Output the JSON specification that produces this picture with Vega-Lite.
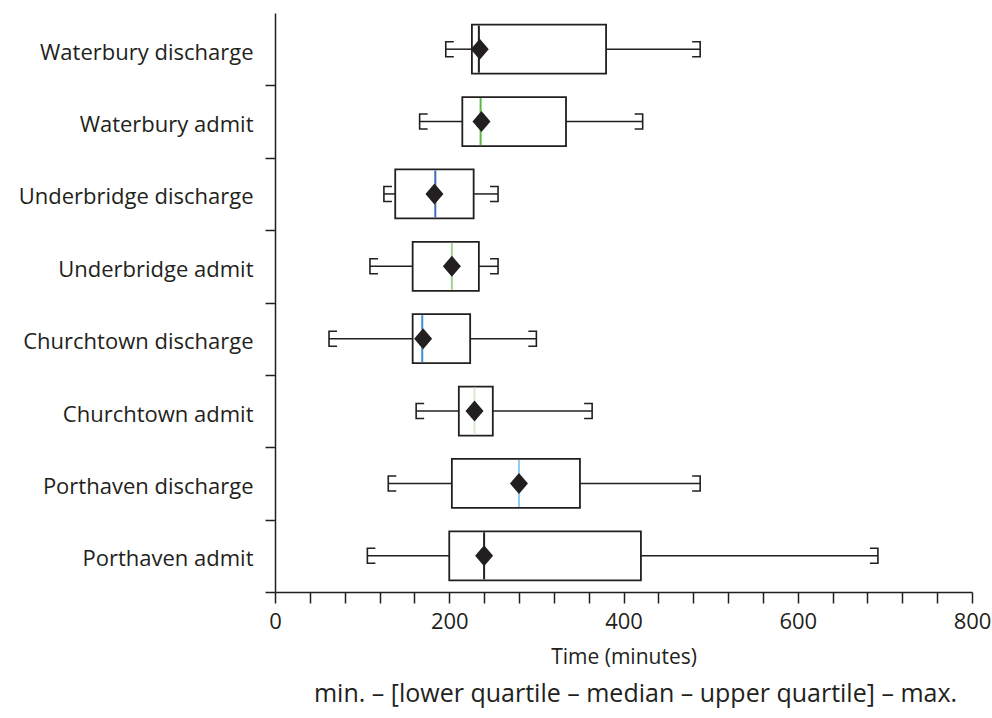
{
  "$schema": "https://vega.github.io/schema/vega-lite/v6.json",
  "width": 697,
  "height": 579,
  "autosize": {"type": "none"},
  "padding": {"left": 275, "top": 13, "right": 20, "bottom": 126},
  "background": "white",
  "title": {
    "text": "min. – [lower quartile – median – upper quartile] – max.",
    "orient": "bottom",
    "anchor": "middle",
    "offset": 15,
    "dx": 12,
    "font": "Open Sans",
    "fontSize": 25,
    "fontWeight": "normal",
    "color": "#231f20"
  },
  "config": {
    "view": {"stroke": null},
    "font": "Open Sans",
    "axis": {
      "domainColor": "#231f20",
      "domainWidth": 1.5,
      "tickColor": "#231f20",
      "tickWidth": 1.5,
      "labelColor": "#231f20",
      "titleColor": "#231f20",
      "labelFont": "Open Sans",
      "titleFont": "Open Sans",
      "labelFontSize": 22,
      "titleFontSize": 21,
      "titleFontWeight": "normal",
      "labelLimit": 400,
      "labelOverlap": false,
      "labelFlush": false,
      "grid": false
    }
  },
  "data": {
    "values": [
      {"site": "Waterbury discharge", "min": 196, "q1": 226, "median": 234, "q3": 380, "max": 488, "mean": 235, "medianColor": "#231f20"},
      {"site": "Waterbury admit", "min": 166, "q1": 215, "median": 236, "q3": 334, "max": 422, "mean": 237, "medianColor": "#5cb845"},
      {"site": "Underbridge discharge", "min": 125, "q1": 138, "median": 184, "q3": 228, "max": 256, "mean": 183, "medianColor": "#3e6db5"},
      {"site": "Underbridge admit", "min": 109, "q1": 158, "median": 203, "q3": 234, "max": 256, "mean": 203, "medianColor": "#a3d28c"},
      {"site": "Churchtown discharge", "min": 62, "q1": 158, "median": 169, "q3": 224, "max": 300, "mean": 170, "medianColor": "#3f8fd6"},
      {"site": "Churchtown admit", "min": 162, "q1": 211, "median": 229, "q3": 250, "max": 364, "mean": 229, "medianColor": "#d6ebcf"},
      {"site": "Porthaven discharge", "min": 130, "q1": 203, "median": 280, "q3": 350, "max": 488, "mean": 280, "medianColor": "#8ecdf0"},
      {"site": "Porthaven admit", "min": 106, "q1": 200, "median": 240, "q3": 420, "max": 692, "mean": 240, "medianColor": "#231f20"}
    ]
  },
  "encoding": {
    "y": {
      "field": "site",
      "type": "nominal",
      "sort": null,
      "title": null,
      "scale": {"paddingInner": 0, "paddingOuter": 0},
      "axis": {
        "tickBand": "extent",
        "tickSize": 10,
        "labelPadding": 12,
        "labelOffset": 3,
        "labelExpr": "datum.label == 'Churchtown discharge' ? datum.label + '  ' : datum.label",
        "tickOpacity": {"condition": {"test": "datum.extra", "value": 0}, "value": 1}
      }
    }
  },
  "layer": [
    {
      "mark": {"type": "rule", "color": "#231f20", "strokeWidth": 1.5},
      "encoding": {
        "x": {
          "field": "min",
          "type": "quantitative",
          "scale": {"domain": [0, 800], "nice": false},
          "title": "Time (minutes)",
          "axis": {
            "values": [0, 40, 80, 120, 160, 200, 240, 280, 320, 360, 400, 440, 480, 520, 560, 600, 640, 680, 720, 760, 800],
            "tickCount": 30,
            "labelExpr": "datum.value % 200 === 0 ? datum.label : ''",
            "labelOverlap": false,
            "labelBound": false,
            "labelFlush": false,
            "tickSize": 11,
            "labelPadding": 8,
            "titlePadding": 14,
            "encode": {
              "ticks": {"update": {"y2": {"signal": "datum.value % 200 === 0 ? 11 : 6"}}}
            }
          }
        },
        "x2": {"field": "q1"}
      }
    },
    {
      "mark": {"type": "rule", "color": "#231f20", "strokeWidth": 1.5},
      "encoding": {
        "x": {"field": "q3", "type": "quantitative"},
        "x2": {"field": "max"}
      }
    },
    {
      "mark": {"type": "point", "shape": "M1.07,-1L0,-1L0,1L1.07,1", "filled": false, "size": 225, "stroke": "#231f20", "strokeWidth": 1.6, "opacity": 1},
      "encoding": {"x": {"field": "min", "type": "quantitative"}}
    },
    {
      "mark": {"type": "point", "shape": "M-1.07,-1L0,-1L0,1L-1.07,1", "filled": false, "size": 225, "stroke": "#231f20", "strokeWidth": 1.6, "opacity": 1},
      "encoding": {"x": {"field": "max", "type": "quantitative"}}
    },
    {
      "mark": {"type": "bar", "fill": "white", "stroke": "#231f20", "strokeWidth": 1.8, "size": 49},
      "encoding": {
        "x": {"field": "q1", "type": "quantitative"},
        "x2": {"field": "q3"}
      }
    },
    {
      "mark": {"type": "tick", "size": 47, "thickness": 2, "opacity": 1},
      "encoding": {
        "x": {"field": "median", "type": "quantitative"},
        "color": {"field": "medianColor", "type": "nominal", "scale": null}
      }
    },
    {
      "mark": {"type": "point", "shape": "M0,-1.05L0.9,0L0,1.05L-0.9,0Z", "filled": true, "size": 400, "color": "#231f20", "opacity": 1},
      "encoding": {"x": {"field": "mean", "type": "quantitative"}}
    }
  ]
}
